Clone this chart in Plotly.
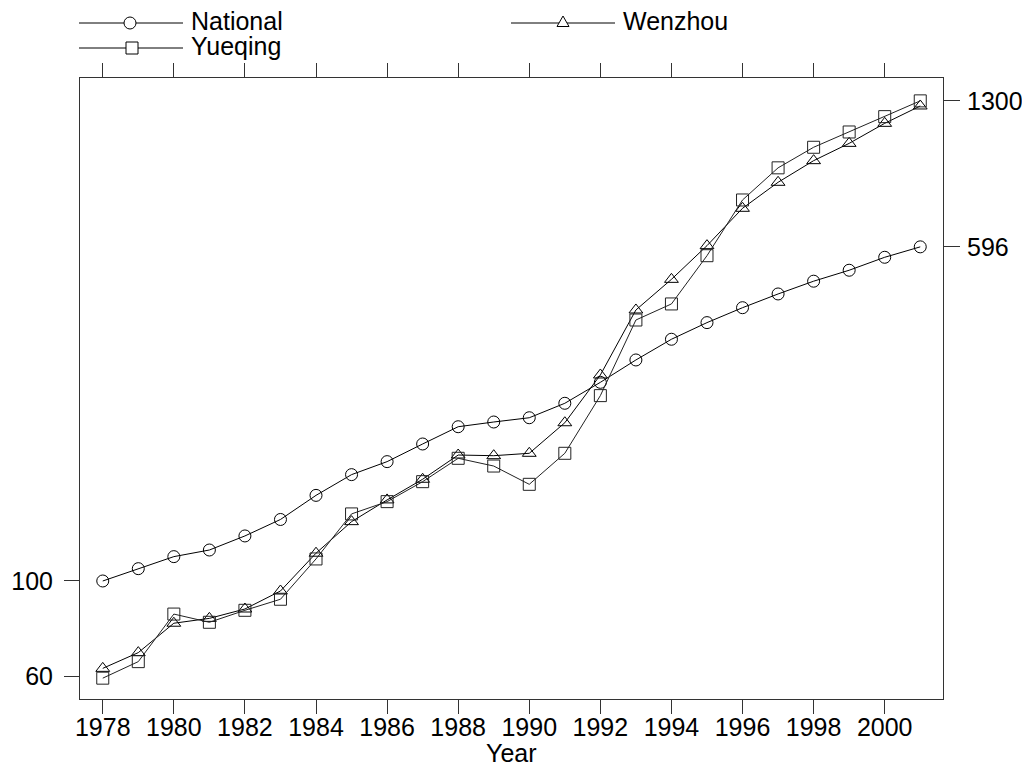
import plotly.graph_objects as go

years = list(range(1978, 2002))
national = [100, 106.8, 113.9, 118, 127.2, 138.9, 158, 176.5, 189.2, 207.9, 228, 233.8,
            239.2, 258.4, 289, 325.7, 363.8, 397.6, 430.6, 463.4, 496.1, 526, 563.7, 596]
wenzhou = [62.7, 68.2, 79.8, 81.9, 86.1, 94.8, 116, 137.3, 154.2, 172.2, 196, 195.3,
           197.8, 232.9, 300.6, 425.4, 501, 599.8, 732.3, 841.4, 944.5, 1036, 1153, 1265]
yueqing = [59.5, 65.0, 83.8, 80.2, 85.5, 90.7, 112.5, 143.1, 152.8, 170, 192.6, 184.8,
           167.6, 197.8, 269.2, 403.2, 439.3, 568.5, 765.6, 909, 1014.6, 1101, 1195, 1300]
x_ticks = list(range(1978, 2001, 2))
left_ticks = [60, 100]
right_ticks = [596, 1300]
names = ["National", "Wenzhou", "Yueqing"]

FONT = "Arial, Liberation Sans, sans-serif"
FS = 25
# page has an 8px body margin: place the figure so the plot box lands at
# page x 80..943, y 78..699
OFF = 8
W, H = 1030 - OFF, 766 - OFF
PL, PR, PT, PB = 80, 943, 78, 699   # plot box in page pixels
L, T = PL - OFF, PT - OFF
R = W - (PR - OFF)
B = H - (PB - OFF)
PW, PH = W - L - R, H - T - B

def px(xp):  # page pixel -> paper fraction
    return (xp - OFF - L) / PW

def py(yp):
    return (H - B - (yp - OFF)) / PH

fig = go.Figure()
fig.add_trace(go.Scatter(x=years, y=national, mode="lines+markers", name=names[0],
                         line=dict(color="black", width=1),
                         marker=dict(symbol="circle-open", size=12, color="black", line=dict(width=1))))
fig.add_trace(go.Scatter(x=years, y=wenzhou, mode="lines+markers", name=names[1],
                         line=dict(color="black", width=1),
                         marker=dict(symbol="triangle-up-open", size=12, color="black", line=dict(width=1))))
fig.add_trace(go.Scatter(x=years, y=yueqing, mode="lines+markers", name=names[2], yaxis="y2",
                         line=dict(color="#222", width=1),
                         marker=dict(symbol="square-open", size=12, color="#222", line=dict(width=1))))

yr = [1.7262, 3.167]
common_ax = dict(ticks="outside", tickcolor="#333", showline=True,
                 linecolor="#333", linewidth=1, showgrid=False, zeroline=False,
                 automargin=False, tickfont=dict(size=FS, family=FONT, color="black"))
fig.update_layout(
    template="none",
    width=W, height=H, margin=dict(l=L, r=R, t=T, b=B, autoexpand=False),
    paper_bgcolor="white", plot_bgcolor="white", showlegend=False,
    font=dict(family=FONT, size=FS, color="black"),
    xaxis=dict(range=[1977.36, 2001.64], tickvals=x_ticks, mirror="ticks", ticklen=14,
               ticklabelstandoff=-8, **common_ax),
    yaxis=dict(type="log", range=yr, tickvals=left_ticks, ticktext=[str(v) for v in left_ticks],
               mirror=True, ticklen=15, ticklabelstandoff=6, **common_ax),
    yaxis2=dict(type="log", range=yr, overlaying="y", side="right", tickvals=right_ticks,
                ticktext=[str(v) for v in right_ticks], ticklen=16, ticklabelstandoff=2,
                **common_ax),
)

# manual legend (page pixel positions)
legend_items = [
    (names[0], 79, 183, 130, 23, "circle"),
    (names[1], 511, 615, 563, 23, "triangle"),
    (names[2], 79, 183, 132, 48, "square"),
]
shapes = []
annotations = []
for name, x0, x1, xm, yl, sym in legend_items:
    shapes.append(dict(type="line", xref="paper", yref="paper", x0=px(x0), x1=px(x1),
                       y0=py(yl), y1=py(yl), line=dict(color="black", width=1)))
    common = dict(xref="paper", yref="paper", xsizemode="pixel", ysizemode="pixel",
                  xanchor=px(xm), yanchor=py(yl), line=dict(color="black", width=1),
                  fillcolor="white")
    if sym == "circle":
        shapes.append(dict(type="circle", x0=-6, x1=6, y0=-6, y1=6, **common))
    elif sym == "square":
        shapes.append(dict(type="rect", x0=-6, x1=6, y0=-6, y1=6, **common))
    else:
        shapes.append(dict(type="path", path="M-6,-3.5 L6,-3.5 L0,7 Z", **common))
    annotations.append(dict(text=name, xref="paper", yref="paper", x=px(x1 + 6), y=py(yl - 2),
                            xanchor="left", yanchor="middle", showarrow=False,
                            font=dict(size=FS, family=FONT)))
# x axis title
annotations.append(dict(text="Year", xref="paper", yref="paper", x=0.5, y=py(753),
                        xanchor="center", yanchor="middle", showarrow=False,
                        font=dict(size=FS, family=FONT)))
fig.update_layout(shapes=shapes, annotations=annotations)

fig.write_html("out.html")
